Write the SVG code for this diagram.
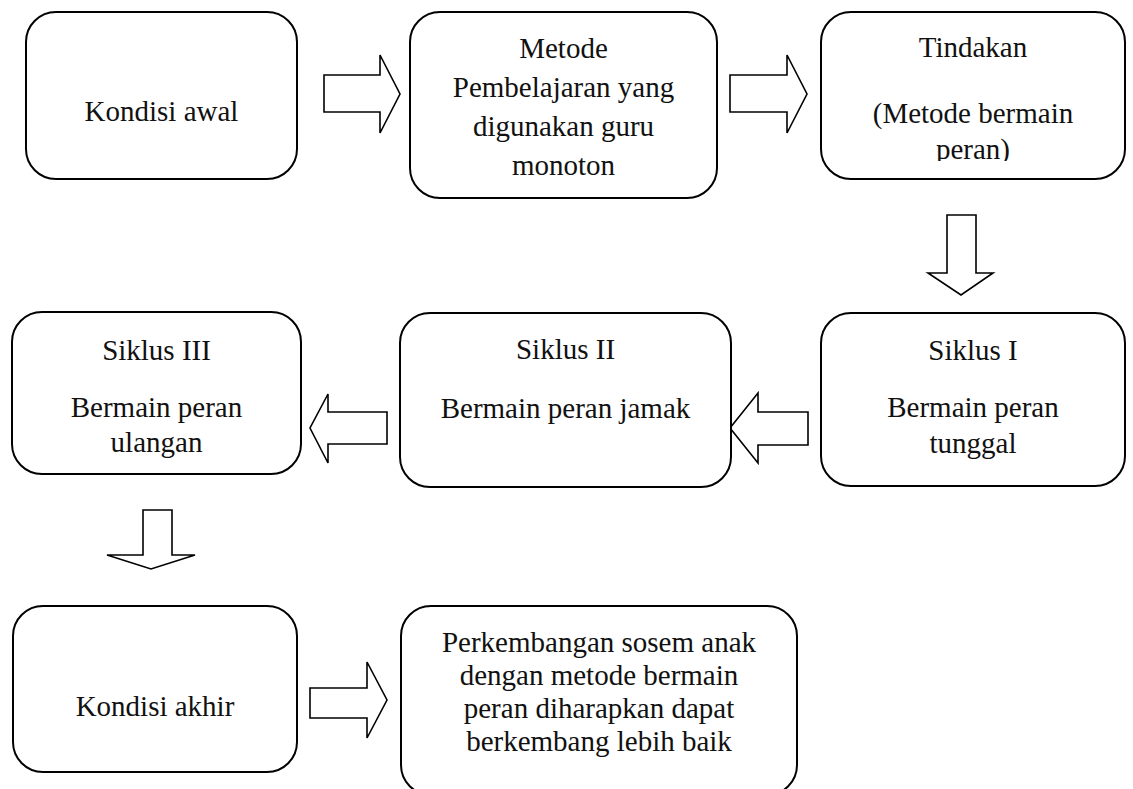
<svg xmlns="http://www.w3.org/2000/svg" width="1133" height="789" viewBox="0 0 1133 789">
<style>
.box{fill:#fff;stroke:#000;stroke-width:2}
.arr{fill:#fff;stroke:#000;stroke-width:1.6;stroke-linejoin:miter}
text{font-family:"Liberation Serif","Times New Roman",serif;font-size:29px;text-anchor:middle;fill:#111}
</style>
<defs>
<clipPath id="clipT"><rect x="821" y="12" width="304" height="149"/></clipPath>
</defs>
<rect width="1133" height="789" fill="#fff"/>
<g id="connectors">
<polygon class="arr" points="324,75 380,75 380,55 400,94 380,133 380,112 324,112"/>
<polygon class="arr" points="730,75 787,75 787,55 807,94 787,133 787,112 730,112"/>
<polygon class="arr" points="947,215 976,215 976,273 993,273 961,295 928,273 947,273"/>
<polygon class="arr" points="808,412 808,445 758,445 758,463 730,428 758,393 758,412"/>
<polygon class="arr" points="387,412 387,444 328,444 328,463 310,428 328,394 328,412"/>
<polygon class="arr" points="143,510 172,510 172,555 195,555 151,569 107,555 143,555"/>
<polygon class="arr" points="310,688 367,688 367,662 387,700 367,738 367,718 310,718"/>
</g>
<g id="kondisi-awal">
<rect class="box" x="26" y="12" width="271" height="167" rx="30"/>
<text x="161.5" y="121">Kondisi awal</text>
</g>
<g id="metode">
<rect class="box" x="410" y="12" width="307" height="186" rx="30"/>
<text x="563.5" y="58">Metode</text>
<text x="563.5" y="97">Pembelajaran yang</text>
<text x="563.5" y="136">digunakan guru</text>
<text x="563.5" y="175">monoton</text>
</g>
<g id="tindakan">
<rect class="box" x="821" y="12" width="304" height="167" rx="30"/>
<text x="973" y="57">Tindakan</text>
<text x="973" y="123">(Metode bermain</text>
<text x="973" y="159" clip-path="url(#clipT)">peran)</text>
</g>
<g id="siklus-1">
<rect class="box" x="821" y="313" width="304" height="173" rx="30"/>
<text x="973" y="360">Siklus I</text>
<text x="973" y="417">Bermain peran</text>
<text x="973" y="453">tunggal</text>
</g>
<g id="siklus-2">
<rect class="box" x="400" y="313" width="331" height="174" rx="30"/>
<text x="565.5" y="359">Siklus II</text>
<text x="565.5" y="418">Bermain peran jamak</text>
</g>
<g id="siklus-3">
<rect class="box" x="12" y="312" width="289" height="162" rx="30"/>
<text x="156.5" y="360">Siklus III</text>
<text x="156.5" y="417">Bermain peran</text>
<text x="156.5" y="452">ulangan</text>
</g>
<g id="kondisi-akhir">
<rect class="box" x="13" y="606" width="284" height="166" rx="30"/>
<text x="155" y="716">Kondisi akhir</text>
</g>
<g id="perkembangan">
<rect class="box" x="401" y="606" width="396" height="189" rx="30"/>
<text x="599" y="652">Perkembangan sosem anak</text>
<text x="599" y="685">dengan metode bermain</text>
<text x="599" y="718">peran diharapkan dapat</text>
<text x="599" y="751">berkembang lebih baik</text>
</g>
</svg>
